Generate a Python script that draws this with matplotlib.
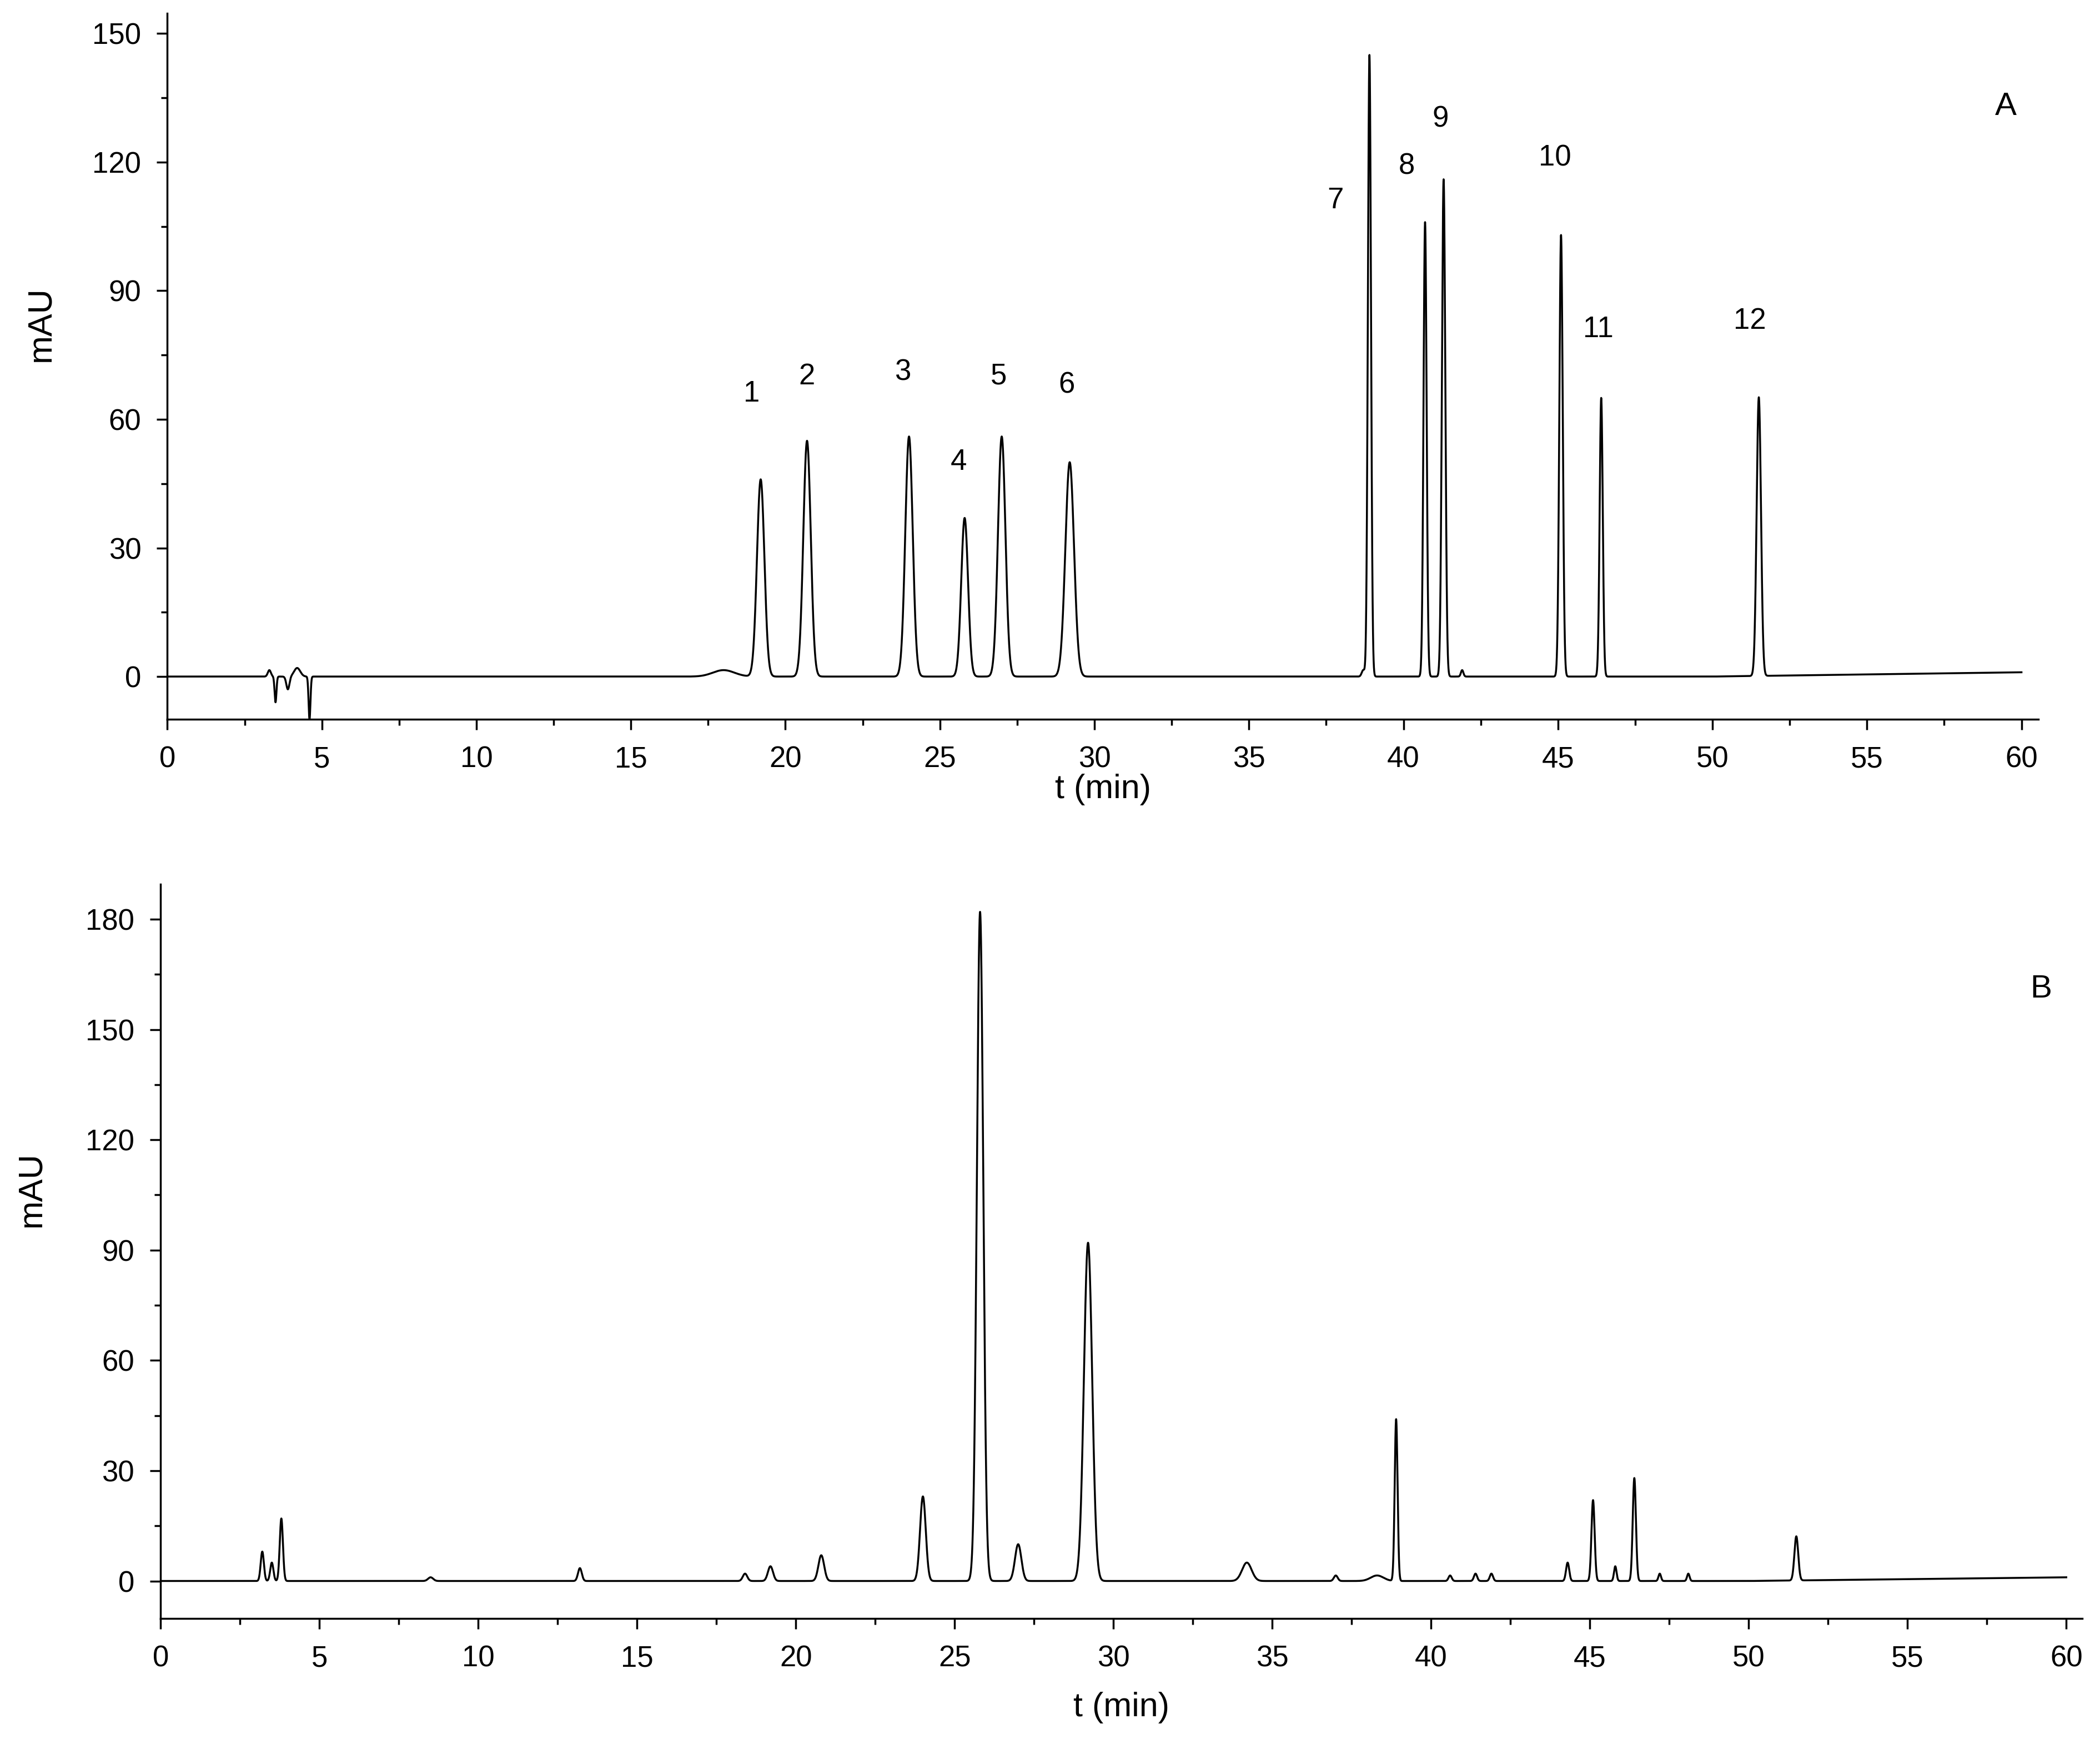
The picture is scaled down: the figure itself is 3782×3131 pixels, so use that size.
import numpy as np
import matplotlib
matplotlib.use("Agg")
import matplotlib.pyplot as plt
from matplotlib.ticker import MultipleLocator

plt.rcParams['font.family'] = ['Liberation Sans', 'DejaVu Sans']

# Panel A peaks: retention time (min), height (mAU), width (sigma, min)
a_rt = [3.3, 3.5, 3.9, 4.2, 4.6, 18.0, 19.2, 20.7, 24.0, 25.8, 27.0, 29.2, 38.7, 38.9, 40.7, 41.3, 41.9, 45.1, 46.4, 51.5]
a_h = [1.5, -6, -3, 2, -10, 1.5, 46, 55, 56, 37, 56, 50, 1.5, 145, 106, 116, 1.5, 103, 65, 65]
a_w = [0.05, 0.03, 0.05, 0.1, 0.03, 0.35, 0.12, 0.12, 0.12, 0.11, 0.12, 0.14, 0.05, 0.05, 0.05, 0.055, 0.04, 0.055, 0.05, 0.07]
a_labels = ["1", "2", "3", "4", "5", "6", "7", "8", "9", "10", "11", "12"]
a_lab_x = [18.9, 20.7, 23.8, 25.6, 26.9, 29.1, 37.8, 40.1, 41.2, 44.9, 46.3, 51.2]
a_lab_y = [66, 70, 71, 50, 70, 68, 111, 119, 130, 121, 81, 83]

# Panel B peaks
b_rt = [3.2, 3.5, 3.8, 8.5, 13.2, 18.4, 19.2, 20.8, 24.0, 25.8, 27.0, 29.2, 34.2, 37.0, 38.3, 38.9, 40.6, 41.4, 41.9, 44.3, 45.1, 45.8, 46.4, 47.2, 48.1, 51.5]
b_h = [8, 5, 17, 1, 3.5, 2, 4, 7, 23, 182, 10, 92, 5, 1.5, 1.5, 44, 1.5, 2, 2, 5, 22, 4, 28, 2, 2, 12]
b_w = [0.05, 0.05, 0.05, 0.08, 0.06, 0.07, 0.08, 0.09, 0.09, 0.1, 0.1, 0.13, 0.15, 0.06, 0.2, 0.045, 0.05, 0.05, 0.05, 0.05, 0.05, 0.04, 0.05, 0.04, 0.04, 0.06]

t = np.linspace(0, 60, 24001)

def trace(rt, h, w, drift):
    y = np.zeros_like(t)
    for r, hh, ww in zip(rt, h, w):
        y += hh * np.exp(-0.5 * ((t - r) / ww) ** 2)
    y += drift * np.clip((t - 50) / 10, 0, 1)
    y[t < 2.9] = 0
    return y

fig = plt.figure(figsize=(37.82, 31.31), dpi=100)
axA = fig.add_axes([0.0797, 0.5863, 0.891, 0.406])
axB = fig.add_axes([0.0765, 0.0693, 0.915, 0.4222])

for ax in (axA, axB):
    for s in ("top", "right"):
        ax.spines[s].set_visible(False)
    for s in ("left", "bottom"):
        ax.spines[s].set_linewidth(2.5)
    ax.tick_params(which="major", direction="out", length=14, width=2.5, labelsize=38, pad=20)
    ax.tick_params(which="minor", direction="out", length=8, width=2.5)
    ax.xaxis.set_major_locator(MultipleLocator(5))
    ax.xaxis.set_minor_locator(MultipleLocator(2.5))
    ax.set_xlabel("t (min)", fontsize=44, labelpad=0)
    ax.set_ylabel("mAU", fontsize=44, labelpad=28)

axA.yaxis.set_label_coords(-0.059, 0.56)
axB.yaxis.set_label_coords(-0.059, 0.585)
axB.xaxis.set_label_coords(0.5, -0.1)

axA.plot(t, trace(a_rt, a_h, a_w, 1.0), color="black", lw=2.5)
axA.set_xlim(0, 60.55)
axA.set_ylim(-10, 154.7)
axA.yaxis.set_major_locator(MultipleLocator(30))
axA.yaxis.set_minor_locator(MultipleLocator(15))
for lab, x, y in zip(a_labels, a_lab_x, a_lab_y):
    axA.text(x, y, lab, fontsize=38, ha="center", va="center")
axA.text(59.5, 133, "A", fontsize=42, ha="center", va="center")

axB.plot(t, trace(b_rt, b_h, b_w, 1.0), color="black", lw=2.5)
axB.set_xlim(0, 60.5)
axB.set_ylim(-10.2, 189.5)
axB.yaxis.set_major_locator(MultipleLocator(30))
axB.yaxis.set_minor_locator(MultipleLocator(15))
axB.text(59.2, 161, "B", fontsize=42, ha="center", va="center")

fig.savefig("out.png", dpi=100)
